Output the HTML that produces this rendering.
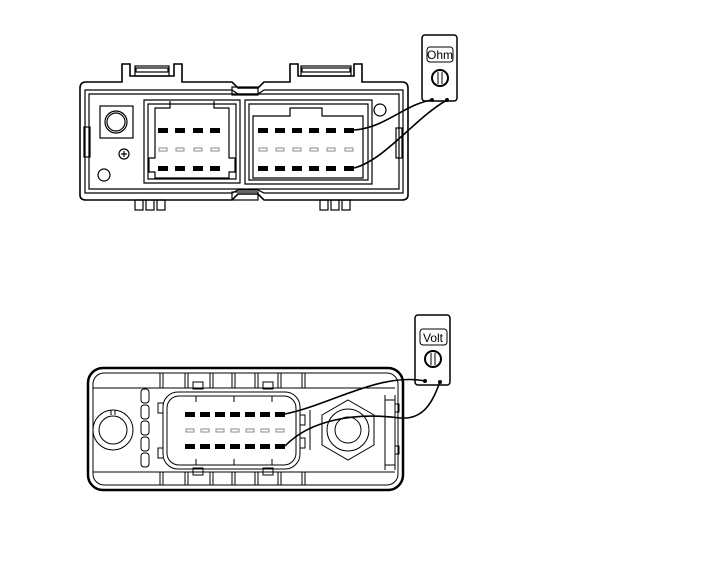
<!DOCTYPE html>
<html><head><style>html,body{margin:0;padding:0;background:#fff}svg{display:block}</style></head>
<body>
<svg width="705" height="573" viewBox="0 0 705 573" xmlns="http://www.w3.org/2000/svg" fill="none" stroke="#000" font-family="Liberation Sans, sans-serif">
<!-- TOP CONNECTOR -->
<g stroke-width="1.2">
<path d="M80,88 Q80,82 86,82 L122,82 L122,64 L130,64 L130,76 L174,76 L174,64 L182,64 L182,82 L232,82 L238,88 L258,88 L264,82 L290,82 L290,64 L298,64 L298,76 L354,76 L354,64 L362,64 L362,82 L402,82 Q408,82 408,88 L408,195 Q408,200 402,200 L264,200 L258,194 L238,194 L232,200 L86,200 Q80,200 80,195 Z" stroke-width="1.6"/>
<path d="M85,90 L232,90 L238,94 L258,94 L264,90 L403,90 L403,193 L264,193 L258,190 L238,190 L232,193 L85,193 Z"/>
<path d="M89,94 L399,94 L399,189 L89,189 Z"/>
<rect x="135" y="66" width="34" height="10"/><rect x="136" y="68" width="32" height="4"/>
<rect x="301" y="66" width="50" height="10"/><rect x="302" y="68" width="48" height="4"/>
<rect x="232" y="87" width="26" height="8"/><rect x="232" y="192" width="26" height="8"/>
<rect x="84" y="127" width="6" height="30"/><rect x="396" y="128" width="6" height="30"/>
<rect x="135" y="200" width="8" height="10"/><rect x="146" y="200" width="8" height="10"/><rect x="157" y="200" width="8" height="10"/>
<rect x="320" y="200" width="8" height="10"/><rect x="331" y="200" width="8" height="10"/><rect x="342" y="200" width="8" height="10"/>
<rect x="100" y="106" width="33" height="32"/>
<circle cx="116" cy="122" r="11"/><circle cx="116" cy="122" r="9"/>
<circle cx="104" cy="175" r="6"/><circle cx="380" cy="110" r="6"/>
<circle cx="124" cy="154" r="5"/><path d="M121,154 h6 M124,151 v6"/>
<!-- left block -->
<path d="M144,100 L240,100 L240,183 L144,183 Z M148,104 L236,104 L236,179 L148,179 Z"/>
<path d="M170,101 L170,108 L155,108 L155,158 L149,158 L149,172 L155,172 L155,178 L229,178 L229,172 L235,172 L235,158 L229,158 L229,108 L214,108 L214,101"/>
<!-- right block -->
<path d="M245,100 L372,100 L372,184 L245,184 Z M249,104 L368,104 L368,180 L249,180 Z"/>
<path d="M253,116 L290,116 L290,108 L322,108 L322,116 L363,116 L363,178 L253,178 Z"/>
</g>
<g fill="#000" stroke="none">
<rect x="158" y="128" width="10" height="5"/><rect x="175" y="128" width="10" height="5"/><rect x="193" y="128" width="10" height="5"/><rect x="210" y="128" width="10" height="5"/>
<rect x="158" y="166" width="10" height="5"/><rect x="175" y="166" width="10" height="5"/><rect x="193" y="166" width="10" height="5"/><rect x="210" y="166" width="10" height="5"/>
<rect x="258" y="128" width="10" height="5"/><rect x="275" y="128" width="10" height="5"/><rect x="292" y="128" width="10" height="5"/><rect x="309" y="128" width="10" height="5"/><rect x="326" y="128" width="10" height="5"/><rect x="344" y="128" width="10" height="5"/>
<rect x="258" y="166" width="10" height="5"/><rect x="275" y="166" width="10" height="5"/><rect x="292" y="166" width="10" height="5"/><rect x="309" y="166" width="10" height="5"/><rect x="326" y="166" width="10" height="5"/><rect x="344" y="166" width="10" height="5"/>
</g>
<g stroke="#888" stroke-width="1">
<rect x="159" y="148" width="8" height="3"/><rect x="176" y="148" width="8" height="3"/><rect x="194" y="148" width="8" height="3"/><rect x="211" y="148" width="8" height="3"/>
<rect x="259" y="148" width="8" height="3"/><rect x="276" y="148" width="8" height="3"/><rect x="293" y="148" width="8" height="3"/><rect x="310" y="148" width="8" height="3"/><rect x="327" y="148" width="8" height="3"/><rect x="345" y="148" width="8" height="3"/>
</g>
<!-- Ohm meter -->
<rect x="422" y="35" width="35" height="66" rx="3" stroke-width="1.5"/>
<rect x="427" y="47" width="26" height="15" rx="3"/>
<text x="440" y="59" font-size="12" text-anchor="middle" fill="#000" stroke="none">Ohm</text>
<circle cx="440" cy="78" r="8" stroke-width="2"/><path d="M438,72 v12 M442,72 v12"/>
<path d="M354,130 C385,128 405,104 432,100" stroke-width="1.6"/>
<path d="M354,168 C385,160 415,118 447,100" stroke-width="1.6"/>
<circle cx="432" cy="100" r="1.5" fill="#000"/><circle cx="447" cy="100" r="1.5" fill="#000"/>

<!-- BOTTOM CONNECTOR -->
<rect x="88" y="368" width="315" height="122" rx="15" stroke-width="2.5"/>
<rect x="93" y="373" width="305" height="112" rx="11" stroke-width="1"/>
<g stroke-width="1">
<path d="M93,388 H395 M93,472 H395"/>
<path d="M160,373 v15 M163,373 v15 M185,373 v15 M188,373 v15 M210,373 v15 M213,373 v15 M232,373 v15 M235,373 v15 M255,373 v15 M258,373 v15 M278,373 v15 M281,373 v15 M302,373 v15 M305,373 v15"/>
<path d="M160,472 v13 M163,472 v13 M185,472 v13 M188,472 v13 M210,472 v13 M213,472 v13 M232,472 v13 M235,472 v13 M255,472 v13 M258,472 v13 M278,472 v13 M281,472 v13 M302,472 v13 M305,472 v13"/>
<rect x="193" y="382" width="10" height="7"/><rect x="263" y="382" width="10" height="7"/>
<rect x="193" y="468" width="10" height="7"/><rect x="263" y="468" width="10" height="7"/>
<circle cx="113" cy="430" r="20"/><circle cx="113" cy="430" r="14"/><path d="M111,410 v5 M115,410 v5"/>
<rect x="141" y="389" width="8" height="14" rx="3"/><rect x="141" y="405" width="8" height="14" rx="3"/><rect x="141" y="421" width="8" height="14" rx="3"/><rect x="141" y="437" width="8" height="14" rx="3"/><rect x="141" y="453" width="8" height="14" rx="3"/>
<rect x="163" y="392" width="137" height="77" rx="15"/><rect x="167" y="396" width="129" height="69" rx="12"/>
<path d="M163,403 h-5 v10 h5 M163,448 h-5 v10 h5 M300,415 h5 v10 h-5 M300,438 h5 v10 h-5"/>
<path d="M196,396 v6 M234,396 v6 M272,396 v6 M196,459 v6 M234,459 v6 M272,459 v6"/>
<polygon points="348,400 374,415 374,445 348,460 322,445 322,415"/>
<circle cx="348" cy="430" r="21"/><circle cx="348" cy="430" r="13"/>
<path d="M385,395 v75 M395,395 v75 M385,400 h10 M385,465 h10 M395,404 h4 v8 h-4 M395,446 h4 v8 h-4"/>
<path d="M310,410 v40"/>
</g>
<g fill="#000" stroke="none">
<rect x="185" y="412" width="10" height="5"/><rect x="200" y="412" width="10" height="5"/><rect x="215" y="412" width="10" height="5"/><rect x="230" y="412" width="10" height="5"/><rect x="245" y="412" width="10" height="5"/><rect x="260" y="412" width="10" height="5"/><rect x="275" y="412" width="10" height="5"/>
<rect x="185" y="444" width="10" height="5"/><rect x="200" y="444" width="10" height="5"/><rect x="215" y="444" width="10" height="5"/><rect x="230" y="444" width="10" height="5"/><rect x="245" y="444" width="10" height="5"/><rect x="260" y="444" width="10" height="5"/><rect x="275" y="444" width="10" height="5"/>
</g>
<g stroke="#888" stroke-width="1">
<rect x="186" y="429" width="8" height="3"/><rect x="201" y="429" width="8" height="3"/><rect x="216" y="429" width="8" height="3"/><rect x="231" y="429" width="8" height="3"/><rect x="246" y="429" width="8" height="3"/><rect x="261" y="429" width="8" height="3"/><rect x="276" y="429" width="8" height="3"/>
</g>
<!-- Volt meter -->
<rect x="415" y="315" width="35" height="70" rx="3" stroke-width="1.5"/>
<rect x="420" y="329" width="27" height="16" rx="3"/>
<text x="433" y="342" font-size="12" text-anchor="middle" fill="#000" stroke="none">Volt</text>
<circle cx="433" cy="359" r="8" stroke-width="2"/><path d="M431,353 v12 M435,353 v12"/>
<path d="M285,414 C330,405 380,372 425,381" stroke-width="1.6"/>
<path d="M285,446 C310,420 355,412 400,418 C425,420 433,400 440,382" stroke-width="1.6"/>
<circle cx="425" cy="381" r="1.5" fill="#000"/><circle cx="440" cy="382" r="1.5" fill="#000"/>
</svg>
</body></html>
